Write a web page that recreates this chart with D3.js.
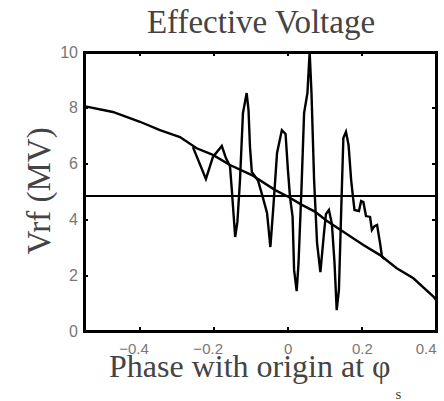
<!DOCTYPE html>
<html><head><meta charset="utf-8">
<script src="https://cdn.jsdelivr.net/npm/d3@7"></script>
<style>body{margin:0;background:#fff}svg{display:block}</style>
</head><body><svg id="c" width="444" height="401"></svg>
<script>
// ---- data ----
const xTickValues = [-0.4, -0.2, 0, 0.2, 0.4];
const xTickLabels = ["\u22120.4", "\u22120.2", "0", "0.2", "0.4"];
const yTickValues = [0, 2, 4, 6, 8, 10];
const yTickLabels = ["0", "2", "4", "6", "8", "10"];

// smooth RF voltage curve
const rfPhase = [-0.55, -0.472, -0.399, -0.345, -0.291, -0.246, -0.202, -0.156, -0.097, -0.034, 0.001, 0.038, 0.073, 0.105, 0.159, 0.204, 0.249, 0.294, 0.339, 0.393, 0.4];
const rfVolt  = [8.06, 7.85, 7.50, 7.20, 6.95, 6.55, 6.31, 5.95, 5.59, 5.05, 4.81, 4.52, 4.28, 3.95, 3.48, 3.08, 2.72, 2.25, 1.89, 1.23, 1.12];

// effective voltage (oscillating)
const effPhase = [-0.256, -0.221, -0.202, -0.178, -0.167, -0.156, -0.151, -0.142, -0.136, -0.129, -0.121, -0.111, -0.106, -0.102, -0.097, -0.080, -0.067, -0.056, -0.047, -0.039, -0.029, -0.016, -0.006, 0.000, 0.006, 0.013, 0.017, 0.024, 0.029, 0.037, 0.044, 0.053, 0.059, 0.064, 0.071, 0.079, 0.088, 0.098, 0.103, 0.111, 0.119, 0.126, 0.132, 0.138, 0.145, 0.150, 0.157, 0.164, 0.171, 0.176, 0.180, 0.192, 0.198, 0.204, 0.211, 0.222, 0.227, 0.234, 0.241, 0.249, 0.254, 0.260];
const effVolt  = [6.59, 5.45, 6.24, 6.63, 6.20, 5.91, 5.05, 3.37, 3.91, 5.41, 7.81, 8.53, 7.92, 6.59, 5.70, 5.38, 4.77, 4.23, 3.01, 4.44, 6.38, 7.20, 7.06, 5.84, 4.80, 4.09, 2.19, 1.43, 2.44, 5.13, 7.81, 8.53, 10.0, 8.53, 5.41, 3.15, 2.11, 3.55, 4.19, 4.34, 3.84, 2.47, 0.75, 1.47, 4.70, 6.92, 7.14, 6.67, 5.41, 4.80, 4.34, 4.30, 4.66, 4.62, 4.12, 4.09, 3.62, 3.76, 3.80, 3.15, 2.69, 2.58];

const referenceLevel = 4.85;
const xDomain = [-0.55, 0.4];
const yDomain = [0, 10];

// ---- drawing ----
const svg = d3.select("#c");
const L = 84, R = 436, T = 52, B = 331;
const x = d3.scaleLinear().domain(xDomain).range([L, R]);
const y = d3.scaleLinear().domain(yDomain).range([B, T]);

const tickFont = "'Liberation Sans', Arial, sans-serif";
const serif = "'Liberation Serif', 'Times New Roman', serif";

function styleAxis(g) {
  g.select(".domain").remove();
  g.selectAll(".tick line").attr("stroke", "#000").attr("stroke-width", 2).attr("shape-rendering", "crispEdges");
  g.selectAll(".tick text").attr("fill", "#777").style("font-family", tickFont).style("font-size", "15px");
}

svg.append("g").attr("transform", `translate(0,${B})`)
  .call(d3.axisBottom(x).tickValues(xTickValues).tickSizeInner(-4).tickSizeOuter(0).tickPadding(12)
    .tickFormat((d, i) => xTickLabels[i]))
  .call(styleAxis)
  .call(g => g.selectAll(".tick text")
    .attr("dx", d => d < 0 ? -6 : 0)
    .attr("text-anchor", d => d === 0.4 ? "end" : "middle")
    .attr("x", d => d === 0.4 ? 0 : 0));

svg.append("g").attr("transform", `translate(0,${T})`)
  .call(d3.axisTop(x).tickValues(xTickValues).tickSizeInner(-4).tickSizeOuter(0).tickFormat(""))
  .call(styleAxis);

svg.append("g").attr("transform", `translate(${L},0)`)
  .call(d3.axisLeft(y).tickValues(yTickValues).tickSizeInner(-4).tickSizeOuter(0).tickPadding(6)
    .tickFormat((d, i) => yTickLabels[i]))
  .call(styleAxis)
  .call(g => g.selectAll(".tick text").style("font-size", "16px"));

svg.append("g").attr("transform", `translate(${R},0)`)
  .call(d3.axisRight(y).tickValues(yTickValues).tickSizeInner(-4).tickSizeOuter(0).tickFormat(""))
  .call(styleAxis);

// frame
svg.append("rect").attr("x", L).attr("y", T).attr("width", R - L).attr("height", B - T)
  .attr("fill", "none").attr("stroke", "#000").attr("stroke-width", 3).attr("shape-rendering", "crispEdges");

// reference horizontal line
svg.append("line").attr("x1", x(xDomain[0])).attr("x2", x(xDomain[1]))
  .attr("y1", y(referenceLevel)).attr("y2", y(referenceLevel))
  .attr("stroke", "#000").attr("stroke-width", 2.2).attr("shape-rendering", "crispEdges");

const line = d3.line().x(d => x(d[0])).y(d => y(d[1]));

svg.append("path").datum(d3.zip(rfPhase, rfVolt))
  .attr("d", line).attr("fill", "none").attr("stroke", "#000").attr("stroke-width", 2.4)
  .attr("stroke-linejoin", "miter");

svg.append("path").datum(d3.zip(effPhase, effVolt))
  .attr("d", line).attr("fill", "none").attr("stroke", "#000").attr("stroke-width", 2.4)
  .attr("stroke-linejoin", "miter");

// title
svg.append("text").attr("x", 261).attr("y", 33).attr("text-anchor", "middle")
  .style("font-family", serif).style("font-size", "33px").attr("fill", "#444")
  .text("Effective Voltage");

// x label
const xl = svg.append("text").attr("x", 109).attr("y", 377)
  .style("font-family", serif).style("font-size", "32px").attr("fill", "#444");
xl.append("tspan").text("Phase with origin at \u03c6");
xl.append("tspan").attr("dx", 5).attr("dy", 22).style("font-size", "15px").text("s");

// y label
svg.append("text").attr("transform", "translate(50,191) rotate(-90)").attr("text-anchor", "middle")
  .style("font-family", serif).style("font-size", "33px").attr("fill", "#444")
  .text("Vrf (MV)");
</script>
</body></html>
